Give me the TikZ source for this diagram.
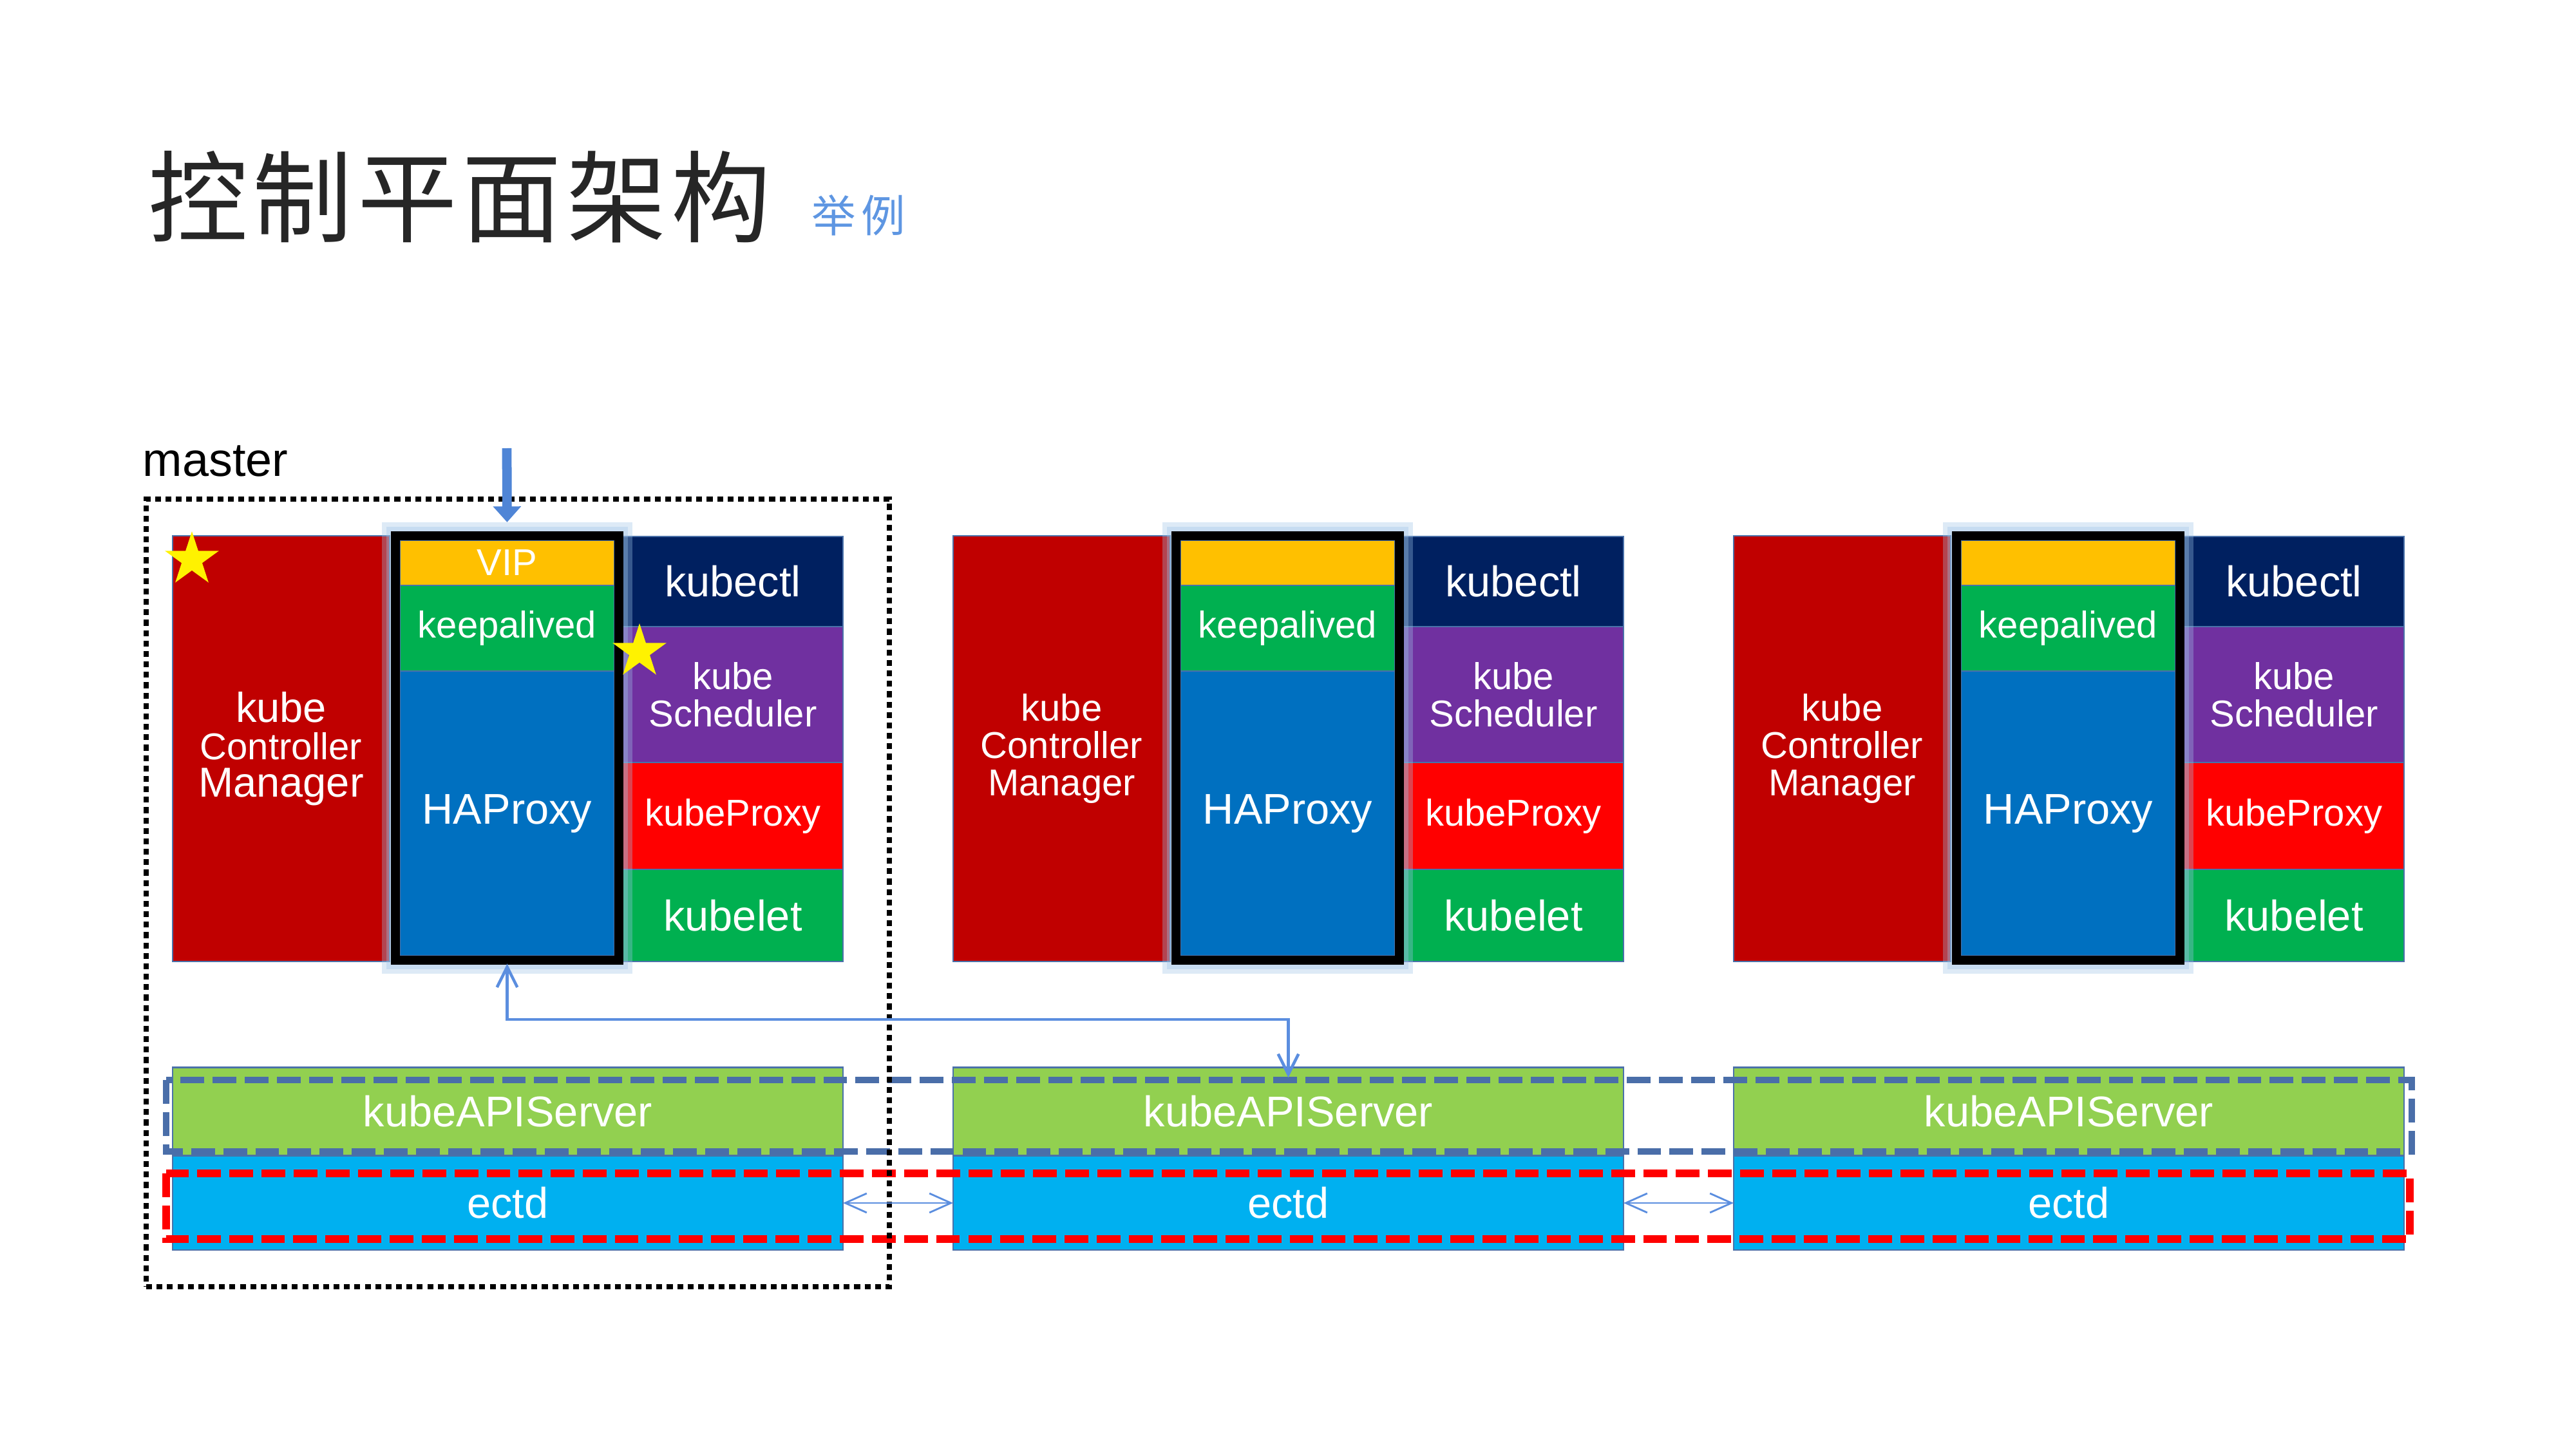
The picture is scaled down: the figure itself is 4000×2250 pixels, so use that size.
\documentclass[tikz,border=0pt]{standalone}
\usepackage{fontspec}
\setmainfont{Liberation Sans}
\newfontfamily\cjk{Noto Sans CJK SC}
\usetikzlibrary{arrows.meta,shapes.geometric}
\definecolor{cmred}{HTML}{C00000}
\definecolor{hapblue}{HTML}{0070C0}
\definecolor{vipyel}{HTML}{FFC000}
\definecolor{kgreen}{HTML}{00B050}
\definecolor{knavy}{HTML}{002060}
\definecolor{kpurp}{HTML}{7030A0}
\definecolor{kred}{HTML}{FF0000}
\definecolor{apigreen}{HTML}{92D050}
\definecolor{etcdcyan}{HTML}{00B0F0}
\definecolor{outl}{HTML}{4A71A9}
\definecolor{dashblue}{HTML}{4A6EA9}
\definecolor{linkc}{HTML}{5B8EDF}
\definecolor{arrc}{HTML}{4F85D6}
\definecolor{glowc}{HTML}{9DC3E6}
\definecolor{titlec}{HTML}{262626}
\definecolor{subc}{HTML}{5E96E2}
\newcommand\cmtxtA{{\fontsize{18.5}{17}\selectfont kube}\\Controller\\{\fontsize{18.5}{17}\selectfont Manager}}
\newcommand\cmtxtB{kube\\Controller\\Manager}
\begin{document}
\begin{tikzpicture}[x=0.1mm,y=-0.1mm,
  box/.style={draw=outl, line width=0.8pt, inner sep=0pt, outer sep=0pt, text=white, align=center, font=\fontsize{16.5}{16.5}\selectfont},
  big/.style={font=\fontsize{19}{19}\selectfont},
  colframe/.style={draw=black, line width=4pt, inner sep=0pt, outer sep=0pt},
  glowline/.style={draw=glowc, line width=#1, opacity=0.35},
  starshape/.style={star, star points=5, star point ratio=2.618, minimum size=8.8mm, inner sep=0pt, fill=yellow, draw=none},
  bdash/.style={draw=dashblue, line width=3pt, dash pattern=on 10.5pt off 3.7pt},
  rdash/.style={draw=kred, line width=3.4pt, dash pattern=on 10.5pt off 3.7pt},
  mdot/.style={draw=black, line width=2pt, dash pattern=on 2.6pt off 2pt, inner sep=0pt, outer sep=0pt},
  bigarr/.style={draw=arrc, line width=4.2pt, -{Triangle[length=7pt,width=12pt]}},
  link/.style={draw=linkc, line width=1.3pt, {Straight Barb[length=9pt,width=9pt]}-{Straight Barb[length=9pt,width=9pt]}},
  link2/.style={draw=linkc, line width=0.8pt, {Straight Barb[length=9.5pt,width=8.5pt]}-{Straight Barb[length=9.5pt,width=8.5pt]}}
]
\useasboundingbox (0,0) rectangle (4000,2250);

\node[anchor=west, inner sep=0pt, text=titlec, font=\cjk\fontsize{44}{44}\selectfont\addfontfeature{LetterSpace=5}] (title) at (230,306) {控制平面架构};
\node[anchor=west, inner sep=0pt, text=subc, font=\cjk\fontsize{19.5}{19.5}\selectfont\addfontfeature{LetterSpace=12}] (sub) at (1260,334) {举例};
\node[anchor=base west, inner sep=0pt, font=\fontsize{21}{21}\selectfont] (master) at (221,739) {master};

\foreach \g/\cmt/\vt in {0/\cmtxtA/VIP,1/\cmtxtB/{},2/\cmtxtB/{}}{
  \pgfmathsetmacro\off{\g*1212}
  \node[box, fill=cmred, minimum width=33.7mm, minimum height=66.1mm] (cm\g) at ({436.5+\off},1162.5) {\cmt};
  \node[box, fill=knavy, big, minimum width=34.2mm, minimum height=14mm] (kctl\g) at ({1138+\off},903) {kubectl};
  \node[box, fill=kpurp, minimum width=34.2mm, minimum height=21.1mm] (sched\g) at ({1138+\off},1078.5) {kube\\Scheduler};
  \node[box, fill=kred, minimum width=34.2mm, minimum height=16.6mm] (kpx\g) at ({1138+\off},1267) {kubeProxy};
  \node[box, fill=kgreen, big, minimum width=34.2mm, minimum height=14.3mm] (klet\g) at ({1138+\off},1421.5) {kubelet};
  \draw[glowline=12pt] ({614+\off},832) rectangle ({961+\off},1491);
  \draw[glowline=8pt] ({614+\off},832) rectangle ({961+\off},1491);
  \node[box, fill=vipyel, minimum width=33.3mm, minimum height=7mm] (vip\g) at ({787.5+\off},874) {\vt};
  \node[box, fill=kgreen, minimum width=33.3mm, minimum height=13.3mm] (keep\g) at ({787.5+\off},975.5) {keepalived};
  \node[box, fill=hapblue, big, minimum width=33.3mm, minimum height=44.2mm] (hap\g) at ({787.5+\off},1263) {HAProxy};
  \node[colframe, minimum width=34.7mm, minimum height=65.9mm] (fr\g) at ({787.5+\off},1161.5) {};
  \node[box, fill=apigreen, big, minimum width=104.1mm, minimum height=13.7mm] (api\g) at ({788.5+\off},1726) {kubeAPIServer};
  \node[box, fill=etcdcyan, big, minimum width=104.1mm, minimum height=14.6mm] (etcd\g) at ({788.5+\off},1868) {ectd};
}

\node[starshape] (star1) at (298,869) {};
\node[starshape] (star2) at (993,1012) {};

\draw[bdash] (258,1677) rectangle (3745,1788);
\draw[rdash] (258,1822) rectangle (3742,1924);

\node[mdot, minimum width=115.4mm, minimum height=122.3mm] (mbox) at (804,1386.5) {};

\coordinate (vin) at (787,696);
\draw[bigarr, shorten >=6pt] (vin) -- (fr0.north);
\draw[link, shorten <=1.5pt, shorten >=-4.5pt] (fr0.south) -- ++(0,92) -| (api1.north);
\draw[link2] (etcd0.east) -- (etcd1.west);
\draw[link2] (etcd1.east) -- (etcd2.west);
\end{tikzpicture}
\end{document}
